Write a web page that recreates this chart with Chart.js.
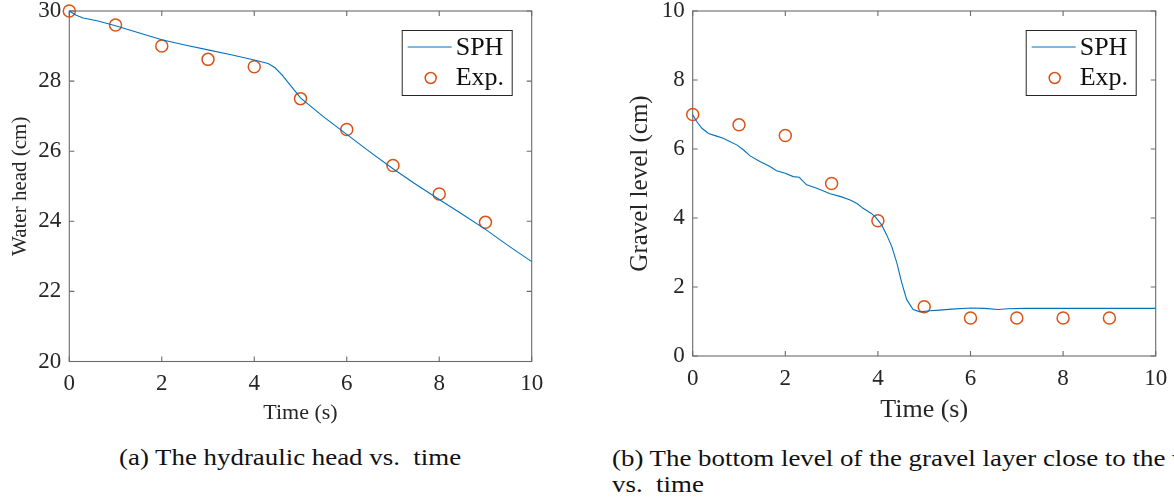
<!DOCTYPE html>
<html>
<head>
<meta charset="utf-8">
<script src="https://cdn.jsdelivr.net/npm/chart.js@4.4.1/dist/chart.umd.min.js"></script>
<style>
  html, body { margin: 0; padding: 0; background: #fff; }
  body { width: 1174px; height: 502px; overflow: hidden; position: relative; font-family: "Liberation Serif", serif; color: #111; }
  canvas { position: absolute; top: 0; }
  #ca { left: 0; }
  #cb { left: 600px; }
  .cap { position: absolute; font-size: 24px; line-height: 26px; white-space: nowrap; transform: scaleX(1.12); transform-origin: 0 0; }
  #capA { left: 119px; top: 444px; }
  #capB { left: 612px; top: 445px; }
</style>
</head>
<body>
<canvas id="ca" width="560" height="430"></canvas>
<canvas id="cb" width="574" height="430"></canvas>
<div class="cap" id="capA">(a) The hydraulic head vs.&nbsp; time</div>
<div class="cap" id="capB">(b) The bottom level of the gravel layer close to the wall<br>vs.&nbsp; time</div>
<script>
// ---------- data ----------
const xTicks = [0, 2, 4, 6, 8, 10];
const headTicks = [20, 22, 24, 26, 28, 30];
const gravelTicks = [0, 2, 4, 6, 8, 10];

// (a) hydraulic head
const headSphTime = [0, 0.15, 0.3, 0.6, 1, 1.5, 2, 2.5, 3, 3.5, 4, 4.3, 4.45, 4.6, 4.8, 5, 5.5, 6, 6.5, 7, 7.5, 8, 8.5, 9, 9.5, 10];
const headSph     = [30.0, 29.88, 29.8, 29.72, 29.58, 29.38, 29.18, 29.03, 28.89, 28.75, 28.6, 28.5, 28.38, 28.18, 27.85, 27.52, 26.98, 26.48, 25.98, 25.5, 25.05, 24.62, 24.2, 23.77, 23.3, 22.85];
const headExpTime = [0, 1, 2, 3, 4, 5, 6, 7, 8, 9];
const headExp     = [30.0, 29.6, 29.0, 28.62, 28.41, 27.5, 26.62, 25.59, 24.78, 23.97];

// (b) gravel level
const gravelSphTime = [0, 0.09, 0.2, 0.34, 0.5, 0.66, 0.8, 0.95, 1.1, 1.24, 1.45, 1.67, 1.81, 2.0, 2.17, 2.3, 2.46, 2.68, 2.97, 3.2, 3.4, 3.55, 3.68, 3.85, 3.94, 4.08, 4.19, 4.3, 4.41, 4.51, 4.62, 4.76, 4.91, 5.13, 5.33, 5.6, 6.0, 6.3, 6.6, 6.8, 7.2, 8, 9, 10];
const gravelSph     = [6.99, 6.79, 6.6, 6.45, 6.38, 6.31, 6.22, 6.12, 5.97, 5.8, 5.64, 5.49, 5.37, 5.3, 5.2, 5.18, 4.96, 4.86, 4.7, 4.62, 4.52, 4.42, 4.28, 4.14, 4.04, 3.8, 3.51, 3.17, 2.69, 2.15, 1.64, 1.35, 1.28, 1.31, 1.33, 1.36, 1.39, 1.38, 1.35, 1.37, 1.38, 1.38, 1.38, 1.38];
const gravelExpTime = [0, 1, 2, 3, 4, 5, 6, 7, 8, 9];
const gravelExp     = [7.0, 6.7, 6.39, 5.0, 3.92, 1.43, 1.1, 1.1, 1.1, 1.1];

const seriesNames = ['SPH', 'Exp.'];

// ---------- styling ----------
const FONT = '"Liberation Serif", "Times New Roman", serif';
const TXT = '#262626';
const AXC = '#6a6a6a';
const BLUE = '#0072BD';
const ORANGE = '#D95319';

const pts = (xs, ys) => xs.map((v, i) => ({ x: v, y: ys[i] }));

const framePlugin = {
  id: 'frame',
  beforeDatasetsDraw(chart) {
    const { ctx, chartArea: a, scales: { x, y } } = chart;
    ctx.save();
    ctx.strokeStyle = AXC;
    ctx.lineWidth = 1.1;
    ctx.strokeRect(a.left, a.top, a.right - a.left, a.bottom - a.top);
    ctx.beginPath();
    const L = 5;
    x.ticks.forEach(t => {
      const p = x.getPixelForValue(t.value);
      ctx.moveTo(p, a.bottom); ctx.lineTo(p, a.bottom - L);
      ctx.moveTo(p, a.top); ctx.lineTo(p, a.top + L);
    });
    y.ticks.forEach(t => {
      const p = y.getPixelForValue(t.value);
      ctx.moveTo(a.left, p); ctx.lineTo(a.left + L, p);
      ctx.moveTo(a.right, p); ctx.lineTo(a.right - L, p);
    });
    ctx.stroke();
    ctx.restore();
  }
};

const legendPlugin = {
  id: 'boxLegend',
  afterDraw(chart) {
    const { ctx, chartArea: a } = chart;
    const w = 110, h = 65;
    const left = a.right - 20 - w, top = a.top + 19;
    ctx.save();
    ctx.fillStyle = '#fff';
    ctx.fillRect(left, top, w, h);
    ctx.strokeStyle = '#262626';
    ctx.lineWidth = 1;
    ctx.strokeRect(left + 0.5, top + 0.5, w, h);
    ctx.strokeStyle = BLUE;
    ctx.lineWidth = 1.2;
    ctx.beginPath();
    ctx.moveTo(left + 6, top + 17); ctx.lineTo(left + 50, top + 17);
    ctx.stroke();
    ctx.strokeStyle = ORANGE;
    ctx.lineWidth = 1.5;
    ctx.beginPath();
    ctx.arc(left + 29, top + 48, 5.5, 0, Math.PI * 2);
    ctx.stroke();
    ctx.fillStyle = '#111';
    ctx.font = '26px ' + FONT;
    ctx.textBaseline = 'middle';
    ctx.textAlign = 'left';
    ctx.fillText(seriesNames[0], left + 54, top + 18);
    ctx.fillText(seriesNames[1], left + 54, top + 48);
    ctx.restore();
  }
};

function makeChart(id, o) {
  return new Chart(document.getElementById(id), {
    type: 'scatter',
    data: {
      datasets: [
        { label: seriesNames[0], data: pts(o.sx, o.sy), showLine: true, borderColor: BLUE, borderWidth: 1.1,
          pointRadius: 0, fill: false, tension: 0, clip: false },
        { label: seriesNames[1], data: pts(o.ex, o.ey), showLine: false, pointStyle: 'circle', pointRadius: 6,
          pointBorderWidth: 1.5, borderColor: ORANGE, backgroundColor: 'rgba(0,0,0,0)',
          pointBackgroundColor: 'rgba(0,0,0,0)', pointBorderColor: ORANGE, clip: false }
      ]
    },
    options: {
      responsive: false,
      animation: false,
      events: [],
      layout: { padding: { left: 0, top: 11, right: o.rightPad, bottom: 0 } },
      plugins: { legend: { display: false }, tooltip: { enabled: false } },
      scales: {
        x: {
          type: 'linear', min: 0, max: 10,
          afterBuildTicks: s => { s.ticks = xTicks.map(v => ({ value: v })); },
          ticks: { color: TXT, font: { family: FONT, size: 23 }, padding: o.xTickPad, maxRotation: 0 },
          grid: { display: false, drawTicks: false },
          border: { display: false },
          title: { display: true, text: o.xTitle, color: TXT, font: { family: FONT, size: o.xTitleSize },
                   padding: { top: 0, bottom: o.xTitlePad } },
          afterFit: s => { s.height = o.xH; s.paddingLeft = 0; s.paddingRight = 0; }
        },
        y: {
          type: 'linear', min: o.yTicks[0], max: o.yTicks[o.yTicks.length - 1],
          afterBuildTicks: s => { s.ticks = o.yTicks.map(v => ({ value: v })); },
          ticks: { color: TXT, font: { family: FONT, size: 23 }, padding: 8 },
          grid: { display: false, drawTicks: false },
          border: { display: false },
          title: { display: true, text: o.yTitle, color: TXT, font: { family: FONT, size: o.yTitleSize },
                   padding: { top: o.yTitlePad, bottom: 0 } },
          afterFit: s => { s.width = o.yW; s.paddingTop = 0; s.paddingBottom = 0; }
        }
      }
    },
    plugins: [framePlugin, legendPlugin]
  });
}

makeChart('ca', {
  sx: headSphTime, sy: headSph, ex: headExpTime, ey: headExp,
  yTicks: headTicks, xTitle: 'Time (s)', yTitle: 'Water head (cm)', xTitleSize: 22, yTitleSize: 21,
  rightPad: 28.3, yW: 69.3, xH: 68.5, xTickPad: 8.5, xTitlePad: 4, yTitlePad: 7.5
});
makeChart('cb', {
  sx: gravelSphTime, sy: gravelSph, ex: gravelExpTime, ey: gravelExp,
  yTicks: gravelTicks, xTitle: 'Time (s)', yTitle: 'Gravel level (cm)', xTitleSize: 26, yTitleSize: 25,
  rightPad: 18.3, yW: 92.7, xH: 74, xTickPad: 9, xTitlePad: 4.5, yTitlePad: 25
});
</script>
</body>
</html>
